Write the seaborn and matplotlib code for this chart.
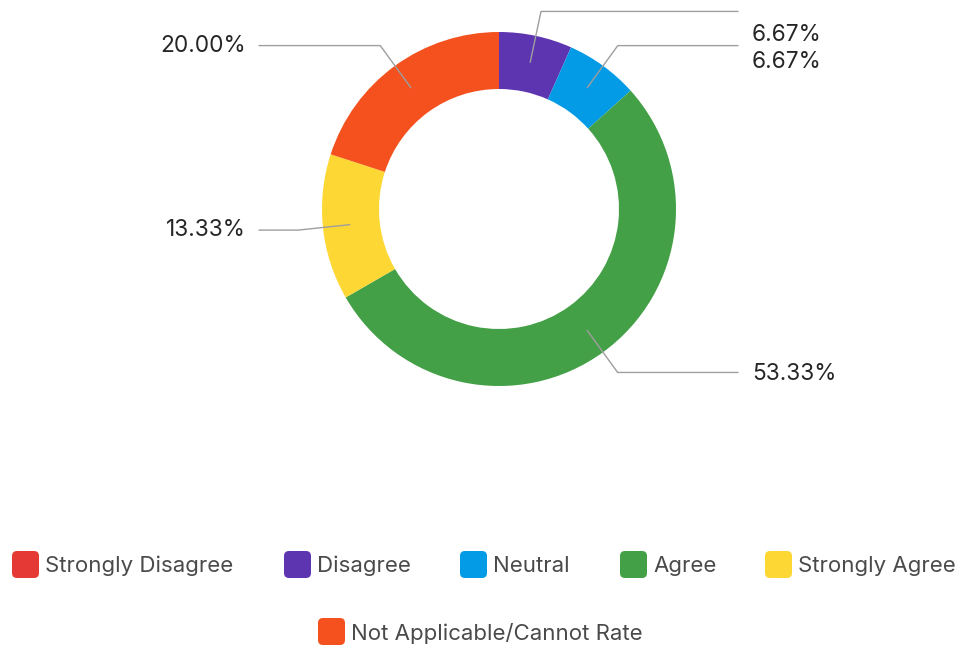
import numpy as np
import matplotlib.pyplot as plt
import seaborn as sns
from matplotlib.patches import FancyBboxPatch

sns.set_theme(style="white")
plt.rcParams["font.family"] = ["Inter", "DejaVu Sans"]

# data
categories = ["Strongly Disagree", "Disagree", "Neutral", "Agree",
              "Strongly Agree", "Not Applicable/Cannot Rate"]
percent = [0.0, 6.67, 6.67, 53.33, 13.33, 20.00]
colors = ["#E53935", "#5E35B1", "#039BE5", "#43A047", "#FDD835", "#F4511E"]

W, H = 963, 649
fig = plt.figure(figsize=(W / 100, H / 100), dpi=100)
ax = fig.add_axes([0, 0, 1, 1])

cx, cy = 499, H - 209
R, ring = 177, 57

ax.pie(percent, colors=colors, startangle=90, counterclock=False,
       center=(cx, cy), radius=R,
       wedgeprops=dict(width=ring, linewidth=0))

ax.set_xlim(0, W)
ax.set_ylim(0, H)
ax.set_aspect("equal")
ax.axis("off")

# leader lines and labels
total = sum(percent)
start = 0.0
right_next = H - 35  # first allowed label y on the right (top)
for val in percent:
    mid = start + val / total * 360 / 2
    start += val / total * 360
    if val == 0:
        continue
    a = np.radians(mid)
    x0, y0 = cx + 150 * np.sin(a), cy + 150 * np.cos(a)
    x1, y1 = cx + 202 * np.sin(a), cy + 202 * np.cos(a)
    if np.sin(a) >= 0:
        x2 = 738
        ty = min(y1 - 2, right_next)
        right_next = ty - 27
        tx, ha = 752, "left"
    else:
        x2 = 259
        ty = y1
        tx, ha = 246, "right"
    ax.plot([x0, x1, x2], [y0, y1, y1], color="#9e9e9e", lw=1)
    ax.text(tx, ty, f"{val:.2f}%", ha=ha, va="center", fontsize=16.3,
            color="#262626")

# legend
legend_x = [12, 284, 460, 620, 765, 318]
legend_y = [565, 565, 565, 565, 565, 632]
for name, col, lx, ly in zip(categories, colors, legend_x, legend_y):
    box = FancyBboxPatch((lx, H - ly - 13), 27, 27,
                         boxstyle="round,pad=0,rounding_size=5",
                         facecolor=col, edgecolor="none")
    ax.add_patch(box)
    ax.text(lx + 33, H - ly - 1, name, ha="left", va="center", fontsize=16,
            color="#4a4a4a")

fig.savefig("out.png", dpi=100)
